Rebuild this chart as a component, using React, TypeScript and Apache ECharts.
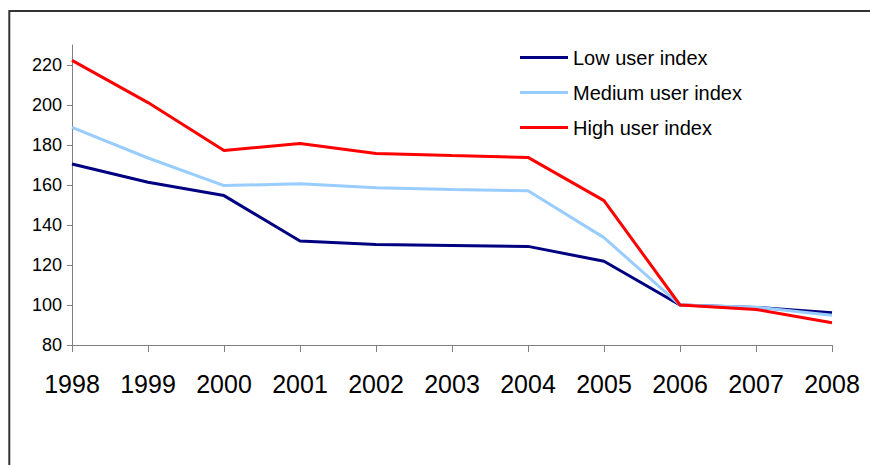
import React, { useEffect, useRef } from "react";
import * as echarts from "echarts";

const years = ["1998", "1999", "2000", "2001", "2002", "2003", "2004", "2005", "2006", "2007", "2008"];
const lowUser = [170.5, 161.4, 154.7, 132.0, 130.2, 129.8, 129.3, 121.9, 100, 98.8, 96.1];
const mediumUser = [188.8, 173.5, 159.7, 160.6, 158.6, 157.7, 157.1, 133.7, 100, 98.9, 94.9];
const highUser = [222.3, 201.2, 177.2, 180.8, 175.8, 174.7, 173.8, 152.2, 100, 97.8, 91.1];
const yTicks = [80, 100, 120, 140, 160, 180, 200, 220];

const FONT = "'Liberation Sans', Arial, sans-serif";

export default function App() {
  const ref = useRef<HTMLDivElement>(null);

  useEffect(() => {
    document.body.style.margin = "0";
    const chart = echarts.init(ref.current!, null, { renderer: "svg" });
    const mkLine = (name: string, data: number[], color: string) => ({
      name,
      type: "line",
      data,
      symbol: "none",
      lineStyle: { color, width: 3 },
      itemStyle: { color },
    });
    chart.setOption({
      animation: false,
      backgroundColor: "#ffffff",
      textStyle: { fontFamily: FONT },
      grid: { left: 72, top: 45, width: 760, height: 300 },
      legend: {
        orient: "vertical",
        left: 520,
        top: 47,
        padding: 0,
        icon: "rect",
        itemWidth: 48,
        itemHeight: 3,
        itemGap: 14,
        textStyle: { fontSize: 20, color: "#000", fontFamily: FONT, lineHeight: 21 },
        data: ["Low user index", "Medium user index", "High user index"],
      },
      xAxis: {
        type: "category",
        data: years,
        boundaryGap: false,
        axisLine: { lineStyle: { color: "#808080", width: 1 } },
        axisTick: { show: true, length: 7, alignWithLabel: true, lineStyle: { color: "#808080" } },
        axisLabel: { fontSize: 25, color: "#000", margin: 26, fontFamily: FONT },
        splitLine: { show: false },
      },
      yAxis: {
        type: "value",
        min: 80,
        max: 230,
        axisLine: { show: true, lineStyle: { color: "#808080", width: 1 } },
        axisTick: { show: true, length: 5, customValues: yTicks, lineStyle: { color: "#808080" } },
        axisLabel: { fontSize: 18, color: "#000", margin: 10, customValues: yTicks, fontFamily: FONT },
        splitLine: { show: false },
      },
      graphic: [
        {
          type: "rect",
          shape: { x: 9.3, y: 11, width: 1000, height: 1000 },
          style: { fill: "none", stroke: "#333333", lineWidth: 2 },
          silent: true,
        },
      ],
      series: [
        mkLine("Low user index", lowUser, "#000080"),
        mkLine("Medium user index", mediumUser, "#99CCFF"),
        mkLine("High user index", highUser, "#FF0000"),
      ],
    });
    return () => chart.dispose();
  }, []);

  return <div ref={ref} style={{ width: 870, height: 465 }} />;
}
